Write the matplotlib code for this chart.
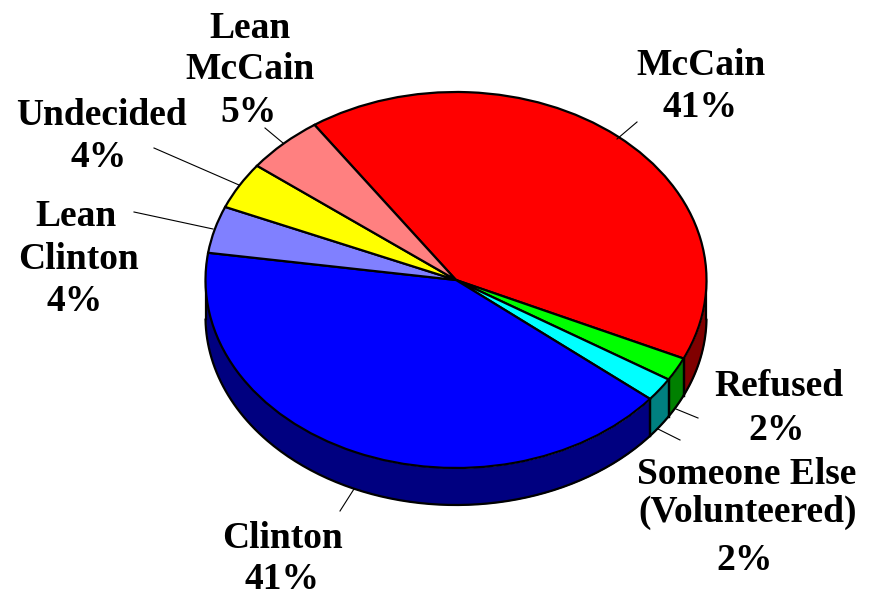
import numpy as np
import matplotlib
matplotlib.use('Agg')
import matplotlib.pyplot as plt

labels = ['McCain', 'Refused', 'Someone Else', 'Clinton', 'Lean Clinton', 'Undecided', 'Lean McCain']
values = [41, 2, 2, 41, 4, 4, 5]
top_colors = ['#ff0000', '#00ff00', '#00ffff', '#0000ff', '#8080ff', '#ffff00', '#ff8080']
side_colors = ['#800000', '#008000', '#008080', '#000080', '#404080', '#808000', '#804040']

W, H = 878, 594
CX, CY, RX, RY = 456, 280, 250.5, 188
DEPTH = 37 / RY

# text: string, centre x px, baseline y px
label_text = [
    ('McCain', 701, 75), ('41%', 700, 117),
    ('Refused', 779, 396), ('2%', 777, 440),
    ('Someone Else', 747, 484), ('(Volunteered)', 748, 522), ('2%', 745, 570),
    ('Clinton', 283, 548), ('41%', 282, 589),
    ('Lean', 76, 226), ('Clinton', 78, 269), ('4%', 75, 311),
    ('Undecided', 102, 125), ('4%', 99, 167),
    ('Lean', 250, 38), ('McCain', 250, 79), ('5%', 249, 122),
]
leaders = [
    ((617, 139), (637, 122)),
    ((676, 409), (698, 418)),
    ((658, 429), (680, 440)),
    ((354, 489), (340, 511)),
    ((213, 229), (134, 212)),
    ((239, 185), (154, 148)),
    ((283, 143), (265, 128)),
]


def to_x(px):
    return (px - CX) / RX


def to_y(py):
    return (CY - py) / RY


fig = plt.figure(figsize=(W / 100, H / 100), dpi=100)
ax = fig.add_axes([0, 0, 1, 1])
wedges, _ = ax.pie(values, colors=top_colors, startangle=124.4, counterclock=False,
                   wedgeprops=dict(edgecolor='black', linewidth=1.6), radius=1)
ax.set_aspect('auto')
ax.set_xlim(to_x(0), to_x(W))
ax.set_ylim(to_y(H), to_y(0))
ax.axis('off')

# side wall of the slices facing front
for w, col in zip(wedges, side_colors):
    t = np.linspace(w.theta1, w.theta2, 200)
    t = t[np.sin(np.radians(t)) <= 0]
    if len(t) == 0:
        continue
    x = np.cos(np.radians(t))
    y = np.sin(np.radians(t))
    ax.fill_between(x, y - DEPTH, y, color=col, lw=0, zorder=0.5)
    ax.plot(x, y - DEPTH, color='black', lw=1.6, zorder=0.6, solid_capstyle='round')
    for i in (0, -1):
        ax.plot([x[i], x[i]], [y[i], y[i] - DEPTH], color='black', lw=1.6, zorder=0.6)

for a, b in leaders:
    ax.plot([to_x(a[0]), to_x(b[0])], [to_y(a[1]), to_y(b[1])], color='black', lw=0.8, zorder=3)

for s, px, py in label_text:
    ax.text(to_x(px), to_y(py), s, ha='center', va='baseline', family='Liberation Serif',
            fontweight='bold', fontsize=27, color='black', zorder=4)

fig.savefig('out.png', dpi=100)
